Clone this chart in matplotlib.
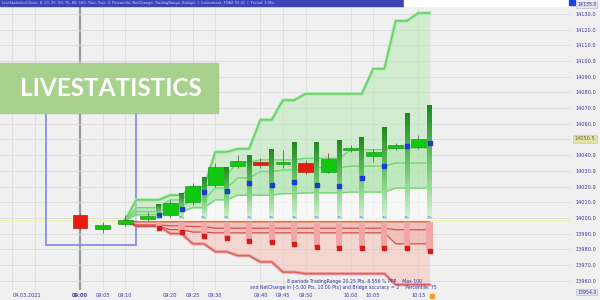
import numpy as np
import matplotlib.pyplot as plt
from matplotlib.colors import LinearSegmentedColormap
from matplotlib.patches import Rectangle

# candles (index 0 = session start bar)
opens  = [14002.0, 13993.0, 13996.0, 13999.5, 14002.0, 14010.0, 14021.0, 14033.0,
          14035.5, 14034.5, 14035.0, 14029.5, 14043.5, 14039.5, 14044.5, 14045.0]
highs  = [14003.0, 13997.5, 14002.0, 14004.0, 14011.5, 14022.5, 14035.0, 14040.0,
          14038.0, 14043.5, 14037.0, 14041.5, 14046.5, 14044.0, 14048.0, 14053.0]
lows   = [13992.5, 13990.5, 13995.0, 13998.0, 14000.0, 14008.5, 14020.0, 14032.0,
          14032.0, 14032.0, 14028.0, 14028.5, 14042.0, 14035.5, 14043.0, 14044.0]
closes = [13993.5, 13995.5, 13998.5, 14001.5, 14009.5, 14020.5, 14032.5, 14036.5,
          14034.0, 14035.5, 14029.5, 14037.5, 14044.5, 14042.0, 14046.5, 14050.5]

entry_price = 13998.5

# projected statistics per bar
bar_top  = [14008.5, 14016.0, 14026.0, 14032.5, 14040.0, 14043.5, 14048.0, 14048.5,
            14049.5, 14051.5, 14058.0, 14067.0, 14072.0]
bar_mean = [14002.0, 14005.5, 14016.5, 14017.0, 14022.5, 14021.0, 14023.0, 14021.0,
            14020.5, 14025.5, 14033.0, 14046.0, 14048.0]
bar_low  = [13993.5, 13991.0, 13988.5, 13987.5, 13985.5, 13984.5, 13983.5, 13981.5,
            13981.0, 13981.0, 13981.0, 13981.0, 13979.0]

# envelopes (one value per interval)
u_max = [14011.5, 14014.5, 14019.5, 14042.0, 14044.0, 14062.5, 14075.0, 14079.0,
         14079.0, 14079.0, 14095.0, 14125.5, 14130.5]
u_hi  = [14006.5, 14011.5, 14018.0, 14027.5, 14035.5, 14037.0, 14037.0, 14038.0,
         14038.0, 14043.5, 14043.5, 14044.5, 14044.5]
u_mid = [14004.0, 14007.5, 14011.5, 14019.0, 14025.5, 14029.5, 14030.5, 14032.0,
         14032.0, 14033.0, 14033.0, 14035.0, 14035.0]
u_lo  = [14002.0, 14004.0, 14006.5, 14011.5, 14014.5, 14014.5, 14015.5, 14016.0,
         14016.0, 14016.5, 14016.5, 14019.0, 14019.0]
l_a   = [13997.5, 13997.5, 13997.5, 13997.5, 13997.5, 13997.5, 13997.5, 13997.5,
         13997.5, 13997.5, 13997.5, 13997.5, 13997.5]
l_b   = [13995.5, 13995.0, 13994.5, 13993.5, 13993.5, 13993.5, 13993.5, 13993.5,
         13993.5, 13993.5, 13993.5, 13992.5, 13992.5]
l_c   = [13994.5, 13992.5, 13991.0, 13990.5, 13990.5, 13990.5, 13990.5, 13990.5,
         13990.5, 13990.5, 13990.5, 13983.5, 13983.5]
l_min = [13995.0, 13990.0, 13983.5, 13978.5, 13976.0, 13972.0, 13965.5, 13964.5,
         13964.5, 13964.5, 13964.5, 13957.5, 13957.5]

time_idx = [0, 1, 2, 4, 5, 6, 8, 9, 10, 12, 13, 15]
time_labels = ['09:00', '09:05', '09:10', '09:20', '09:25', '09:30',
               '09:40', '09:45', '09:50', '10:00', '10:05', '10:15']
date_label = '04.03.2021'

info_1 = '8 periods TradingRange 20.25 Pts, 8.556 % PPP    Max 100'
info_2 = 'and NetChange in [-5.00 Pts, 10.00 Pts] and Bridge accuracy = 2    Percentile: 75'

BG = '#f0f0f0'
GRID = '#dcdcdc'
TXT = '#3434a4'


def envelope(vals):
    # value is held over an interval, ramps in over the first half of it
    xs, ys = [2.0, 2.5], [entry_price, vals[0]]
    for k in range(1, len(vals)):
        p = 2.5 + k
        xs += [p, p + 0.5]
        ys += [vals[k - 1], vals[k]]
    xs.append(15.5)
    ys.append(vals[-1])
    return np.array(xs), np.array(ys)


fig = plt.figure(figsize=(6, 3), dpi=100)
fig.patch.set_facecolor(BG)
ax = fig.add_axes([0, 10 / 300, 570 / 600, 284 / 300])
ax.set_facecolor(BG)
for s in ax.spines.values():
    s.set_visible(False)

# grid
ax.set_yticks(np.arange(13960, 14131, 10))
ax.yaxis.tick_right()
ax.yaxis.set_major_formatter(lambda v, p: f'{v:.1f}')
ax.grid(axis='y', color=GRID, lw=0.6, zorder=0)
for gx in [-3, -2] + time_idx:
    ax.axvline(gx, color=GRID, lw=0.6, zorder=0)
ax.axvline(0, color='#9a9a9a', lw=1.6, zorder=1)
ax.axhline(entry_price, color='#f2f2b0', lw=0.7, zorder=1)

ax.set_xticks([-2.35] + time_idx)
ax.set_xticklabels([date_label] + time_labels)
ax.tick_params(length=0, labelsize=3.6, colors=TXT, pad=2)
ax.tick_params(axis='y', pad=4)
ax.get_xticklabels()[1].set_fontweight('bold')

# range box
ax.add_patch(Rectangle((-1.5, 13983.0), 4.0, 97.0, fill=False,
                       edgecolor='#8c8ce6', lw=1.3, zorder=2))

# fills
ex, y_max = envelope(u_max)
_, y_hi = envelope(u_hi)
_, y_mid = envelope(u_mid)
_, y_lo = envelope(u_lo)
_, y_a = envelope(l_a)
_, y_b = envelope(l_b)
_, y_c = envelope(l_c)
_, y_min = envelope(l_min)

ax.fill_between(ex, entry_price, y_lo, color='#ffffff', alpha=0.5, lw=0, zorder=2)
ax.fill_between(ex, y_lo, y_max, color='#b4eab4', alpha=0.5, lw=0, zorder=2)
ax.fill_between(ex, y_lo, y_hi, color='#9ee29e', alpha=0.35, lw=0, zorder=2)
ax.fill_between(ex, entry_price, y_min, color='#f5c2b4', alpha=0.55, lw=0, zorder=2)
ax.fill_between(ex, y_a, y_c, color='#f09a9a', alpha=0.35, lw=0, zorder=2)

ax.plot(ex, y_max, color='#a4e6a4', lw=2.4, zorder=3)
ax.plot(ex, y_max, color='#5ccf5c', lw=0.9, zorder=3)
for yy in (y_hi, y_mid, y_lo):
    ax.plot(ex, yy, color='#72d672', lw=1.0, zorder=3)
ax.plot(ex, y_min, color='#eea0a0', lw=2.4, zorder=3)
ax.plot(ex, y_min, color='#d46060', lw=0.9, zorder=3)
for yy in (y_a, y_b, y_c):
    ax.plot(ex, yy, color='#d65050', lw=0.9, zorder=3)

# statistic bars
bar_x = np.arange(3.5, 16.0, 1.0)
gcmap = LinearSegmentedColormap.from_list('g', ['#d4f2d4', '#6cc86c', '#1f8a1f'])
grad = np.linspace(0, 1, 64).reshape(-1, 1)
for x, top in zip(bar_x, bar_top):
    ax.imshow(grad, extent=[x - 0.11, x + 0.11, entry_price + 1.0, top],
              origin='lower', cmap=gcmap, aspect='auto', zorder=4)
ax.bar(bar_x, np.array(bar_low) - (entry_price - 1.0), bottom=entry_price - 1.0,
       width=0.27, color='#f2a6a6', lw=0, zorder=4)
ax.plot(bar_x, bar_mean, 's', ms=2.4, color='#1a3ccf', zorder=6)
ax.plot(bar_x, bar_low, 's', ms=2.4, color='#d41c1c', zorder=6)
for x in bar_x:
    ax.text(x, entry_price + 1.6, '7%', fontsize=2.6, color='#5a7ed0',
            ha='center', va='center', zorder=6)

# candles
idx = np.arange(len(opens))
o = np.array(opens)
c = np.array(closes)
up = c >= o
ax.vlines(idx, lows, highs, color='#707070', lw=0.7, zorder=5)
body = np.maximum(np.abs(c - o), 0.8)
ax.bar(idx[up], body[up], bottom=np.minimum(o, c)[up], width=0.66,
       color='#10c810', edgecolor='#0a8a0a', lw=0.4, zorder=5)
ax.bar(idx[~up], body[~up], bottom=np.minimum(o, c)[~up], width=0.66,
       color='#e81c0c', edgecolor='#a01000', lw=0.4, zorder=5)

# info text
ax.text(15.17, 13959.2, info_1, fontsize=3.3, color=TXT, ha='right', va='center', zorder=6)
ax.text(15.83, 13955.4, info_2, fontsize=3.3, color=TXT, ha='right', va='center', zorder=6)
ax.plot(15.6, -0.021, 's', ms=3, color='#f0a020', transform=ax.get_xaxis_transform(),
        clip_on=False)

# current price marker
ax.text(1.008, closes[-1], f'{closes[-1]:.1f}', transform=ax.get_yaxis_transform(),
        fontsize=3.6, color='#6a6a30', va='center', ha='left',
        bbox=dict(boxstyle='square,pad=0.3', fc='#e2e2a8', ec='#c8c890', lw=0.4))

ax.set_xlim(-3.55, 21.73)
ax.set_ylim(13954.1, 14135.0)

# header strip
fig.patches.append(Rectangle((0, 294 / 300), 404 / 600, 6 / 300, transform=fig.transFigure,
                             color='#3d44b8', zorder=5))
fig.patches.append(Rectangle((404 / 600, 294 / 300), 166 / 600, 6 / 300,
                             transform=fig.transFigure, color='white', zorder=5))
fig.patches.append(Rectangle((569 / 600, 295 / 300), 6 / 600, 5 / 300,
                             transform=fig.transFigure, color='#2040e0', zorder=6))
fig.text(0.004, 297 / 300,
         'LiveStatistics(Close, 8, 20, 25, 50, 75, 80, 100, True, True, 2, Percentile, NetChange, '
         'TradingRange, Bridge)  |  Instrument: FDAX 03-21  |  Period: 5 Min',
         fontsize=2.6, color='#c8d0ff', va='center', zorder=7)
fig.text(577 / 600, 1 - 5 / 300, '14135.0', fontsize=3.4, color=TXT, va='center', zorder=7,
         bbox=dict(boxstyle='square,pad=0.2', fc='#e4e4ee', ec='#b8b8c8', lw=0.4))
fig.text(577 / 600, 1 - 292 / 300, '13954.0', fontsize=3.4, color=TXT, va='center', zorder=7,
         bbox=dict(boxstyle='square,pad=0.2', fc='#e4e4ee', ec='#b8b8c8', lw=0.4))

# title banner
fig.patches.append(Rectangle((0, 1 - 113 / 300), 218 / 600, 50 / 300,
                             transform=fig.transFigure, color='#a9d18e', zorder=10))
fig.text(111 / 600, 1 - 88 / 300, 'LIVESTATISTICS', ha='center', va='center',
         color='white', fontsize=17.5, fontweight='bold', family='Lato', zorder=11)

fig.savefig('out.png', dpi=100, facecolor=fig.get_facecolor())
